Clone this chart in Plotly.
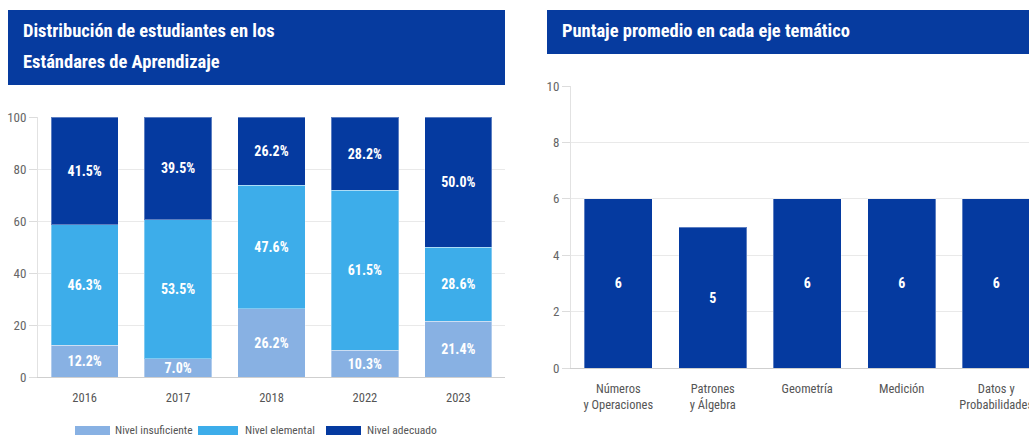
import plotly.graph_objects as go

years = ['2016', '2017', '2018', '2022', '2023']
insuficiente = [12.2, 7.0, 26.2, 10.3, 21.4]
elemental = [46.3, 53.5, 47.6, 61.5, 28.6]
adecuado = [41.5, 39.5, 26.2, 28.2, 50.0]
level_names = ['Nivel insuficiente', 'Nivel elemental', 'Nivel adecuado']
level_colors = ['#88b1e3', '#3dadea', '#053aa0']

ejes = ['Números<br>y Operaciones', 'Patrones<br>y Álgebra', 'Geometría', 'Medición', 'Datos y<br>Probabilidades']
puntajes = [6, 5, 6, 6, 6]

HEADER = '#063b9f'
FONT = 'Roboto Condensed, Liberation Sans Narrow, Roboto, sans-serif'
W, H = 1029, 435

def px(y):
	# pixel row -> paper y
	return 1 - y / H

fig = go.Figure()

bar_text = dict(color = 'white', size = 14, family = FONT, weight = 'bold')
for name, vals, col in zip(level_names, [insuficiente, elemental, adecuado], level_colors):
	fig.add_trace(go.Bar(
		name = name, x = years, y = vals,
		marker = dict(color = col, line = dict(color = 'rgba(255,255,255,0.35)', width = 1)),
		texttemplate = '%{y:.1f}%', textposition = 'inside', insidetextanchor = 'middle',
		textangle = 0, constraintext = 'none', textfont = bar_text,
		xaxis = 'x', yaxis = 'y', showlegend = False, hoverinfo = 'skip',
	))

fig.add_trace(go.Bar(
	x = ejes, y = puntajes,
	marker = dict(color = '#053aa0', line = dict(color = 'rgba(255,255,255,0.35)', width = 1)),
	texttemplate = '%{y}', textposition = 'inside', insidetextanchor = 'middle',
	textangle = 0, constraintext = 'none', textfont = bar_text,
	xaxis = 'x2', yaxis = 'y2', showlegend = False, hoverinfo = 'skip',
))

axis_common = dict(
	showgrid = True, gridcolor = '#e9e9e9', gridwidth = 1,
	tickfont = dict(family = FONT, size = 13, color = '#666'),
	ticks = 'outside', ticklen = 8, tickcolor = '#dcdcdc',
	showline = True, linecolor = '#e2e2e2', zeroline = False, automargin = False,
)
xaxis_common = dict(
	showline = True, linecolor = '#cfcfcf', ticks = '', showgrid = False, automargin = False,
	tickfont = dict(family = FONT, size = 12.5, color = '#555'), ticklabelstandoff = 9,
)

fig.update_layout(
	width = W, height = H,
	margin = dict(l = 0, r = 0, t = 0, b = 0, pad = 0),
	paper_bgcolor = 'white', plot_bgcolor = 'white',
	barmode = 'stack', bargap = 0.28,
	xaxis = dict(domain = [38 / W, 505 / W], anchor = 'y', range = [-0.5, 4.5], **xaxis_common),
	yaxis = dict(domain = [px(377), px(117)], anchor = 'x', range = [0, 100], dtick = 20, **axis_common),
	xaxis2 = dict(domain = [571 / W, 1.0], anchor = 'y2', range = [-0.5, 4.347], **xaxis_common),
	yaxis2 = dict(domain = [px(368), px(86)], anchor = 'x2', range = [0, 10], dtick = 2, **axis_common),
)

# header boxes
fig.add_shape(type = 'rect', xref = 'paper', yref = 'paper', x0 = 8 / W, x1 = 505 / W, y0 = px(85), y1 = px(10),
	fillcolor = HEADER, line_width = 0, layer = 'below')
fig.add_shape(type = 'rect', xref = 'paper', yref = 'paper', x0 = 547 / W, x1 = 1.0, y0 = px(54), y1 = px(10),
	fillcolor = HEADER, line_width = 0, layer = 'below')

title_font = dict(family = FONT, size = 18.5, color = 'white', weight = 'bold')
fig.add_annotation(text = 'Distribución de estudiantes en los', xref = 'paper', yref = 'paper',
	x = 21 / W, y = px(31), xanchor = 'left', yanchor = 'middle', showarrow = False, font = title_font)
fig.add_annotation(text = 'Estándares de Aprendizaje', xref = 'paper', yref = 'paper',
	x = 21 / W, y = px(62), xanchor = 'left', yanchor = 'middle', showarrow = False, font = title_font)
fig.add_annotation(text = 'Puntaje promedio en cada eje temático', xref = 'paper', yref = 'paper',
	x = 560 / W, y = px(31), xanchor = 'left', yanchor = 'middle', showarrow = False, font = title_font)

# legend (custom, wide swatches)
legend_x = [(75, 110, 113), (198, 238, 243), (326, 361, 365)]
for (sx0, sx1, tx), name, col in zip(legend_x, level_names, level_colors):
	fig.add_shape(type = 'rect', xref = 'paper', yref = 'paper', x0 = sx0 / W, x1 = sx1 / W,
		y0 = px(440), y1 = px(426), fillcolor = col, line_width = 0)
	fig.add_annotation(text = name, xref = 'paper', yref = 'paper', x = tx / W, y = px(430),
		xanchor = 'left', yanchor = 'middle', showarrow = False,
		font = dict(family = FONT, size = 11.5, color = '#555'))

fix_page = """
document.documentElement.style.margin = '0';
document.body.style.margin = '0';
document.body.style.overflow = 'hidden';
var d = document.getElementById('{plot_id}');
d.style.position = 'fixed'; d.style.top = '0px'; d.style.left = '0px';
"""
fig.write_html('out.html', config = {'displayModeBar': False}, post_script = fix_page)
